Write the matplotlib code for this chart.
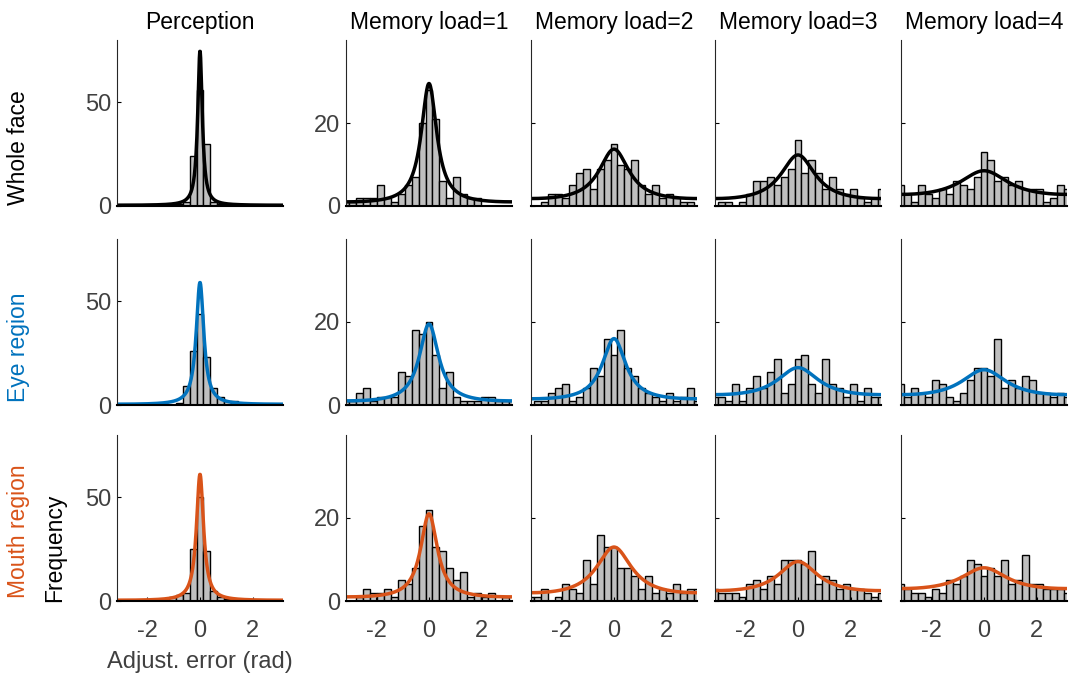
import matplotlib.pyplot as plt
import numpy as np

plt.rcParams['font.family'] = ['Liberation Sans', 'DejaVu Sans']
plt.rcParams['axes.unicode_minus'] = False

# 막대 중심: k * (2pi/24), k = -12..12
bin_w = 2 * np.pi / 24
centers = np.arange(-12, 13) * bin_w

col_titles = ['Perception', 'Memory load=1', 'Memory load=2', 'Memory load=3', 'Memory load=4']
row_labels = ['Whole face', 'Eye region', 'Mouth region']
row_colors = ['black', '#0072BD', '#D95319']

# 히스토그램 카운트 (행: 조건, 열: 과제)
whole_face = [
    [0, 0, 0, 0, 0, 0, 0, 0, 0, 1, 2, 24, 56, 30, 2, 1, 1, 0, 0, 0, 0, 0, 0, 0, 0],
    [1, 1, 2, 2, 2, 5, 2, 1, 3, 5, 7, 20, 28, 21, 6, 2, 7, 3, 2, 2, 0, 0, 0, 0, 0],
    [0, 0, 1, 3, 3, 2, 5, 8, 9, 4, 9, 11, 15, 10, 9, 11, 5, 3, 5, 2, 3, 2, 1, 1, 0],
    [0, 1, 1, 0, 1, 3, 6, 6, 7, 5, 7, 9, 16, 8, 11, 8, 4, 7, 4, 3, 4, 2, 1, 2, 4],
    [5, 3, 1, 5, 3, 2, 4, 3, 6, 5, 4, 7, 13, 11, 6, 7, 5, 6, 4, 4, 4, 1, 2, 5, 4],
]
eye_region = [
    [0, 0, 0, 0, 0, 0, 0, 0, 0, 1, 9, 26, 44, 23, 8, 4, 2, 2, 0, 0, 0, 0, 0, 0, 0],
    [1, 1, 3, 4, 1, 2, 2, 2, 8, 7, 18, 17, 20, 12, 4, 8, 2, 1, 1, 1, 2, 2, 1, 1, 1],
    [0, 1, 1, 3, 4, 5, 1, 2, 4, 9, 7, 16, 12, 18, 9, 7, 4, 3, 2, 1, 3, 1, 2, 4, 1],
    [2, 2, 1, 5, 1, 4, 7, 4, 8, 11, 3, 5, 11, 12, 5, 3, 11, 5, 4, 2, 5, 1, 4, 2, 2],
    [5, 2, 4, 3, 2, 6, 5, 2, 1, 3, 6, 9, 9, 7, 16, 4, 6, 4, 7, 6, 3, 3, 2, 3, 2],
]
mouth_region = [
    [0, 0, 0, 0, 0, 0, 0, 0, 2, 3, 4, 25, 50, 24, 5, 2, 1, 0, 0, 0, 0, 0, 0, 0, 0],
    [0, 0, 1, 3, 2, 2, 3, 1, 5, 4, 8, 18, 22, 13, 12, 8, 5, 7, 1, 2, 1, 2, 0, 1, 0],
    [1, 1, 3, 0, 1, 4, 3, 2, 10, 4, 16, 13, 13, 8, 8, 6, 3, 6, 2, 3, 2, 4, 2, 3, 3],
    [3, 2, 2, 2, 1, 4, 5, 3, 6, 4, 10, 10, 10, 9, 12, 4, 6, 5, 3, 4, 3, 3, 2, 1, 2],
    [4, 3, 2, 2, 1, 3, 2, 5, 4, 6, 10, 9, 6, 8, 6, 10, 4, 5, 11, 4, 4, 3, 3, 3, 2],
]
counts = [whole_face, eye_region, mouth_region]

# 적합 곡선 파라미터: 최고점, 기저값, wrapped Cauchy rho
fit_peak = [[74.5, 29.5, 13.7, 12.3, 8.5],
            [59.0, 19.5, 16.0, 9.0, 8.5],
            [61.0, 21.0, 13.0, 9.5, 8.0]]
fit_base = [[0.4, 1.0, 1.8, 1.8, 2.8],
            [0.4, 1.0, 1.5, 2.5, 2.5],
            [0.4, 1.0, 2.0, 2.5, 3.0]]
fit_rho = [[0.90, 0.70, 0.50, 0.45, 0.32],
           [0.84, 0.64, 0.58, 0.38, 0.35],
           [0.85, 0.68, 0.44, 0.40, 0.34]]


def wcauchy(x, rho):
    return (1 - rho**2) / (1 + rho**2 - 2 * rho * np.cos(x))


fig = plt.figure(figsize=(10.69, 6.75), dpi=100)
W, H = 1069, 675
col_left = [117, 346, 531, 715, 901]
row_bottom = [206, 405, 601]
ax_w, ax_h = 166, 166
tick_color = '#404040'
xx = np.linspace(-np.pi, np.pi, 400)
label_y = [0.35, 0.345, 0.42]

for r in range(3):
    for c in range(5):
        ax = fig.add_axes([col_left[c] / W, 1 - row_bottom[r] / H, ax_w / W, ax_h / H])
        ax.bar(centers, counts[r][c], width=bin_w, color='#BFBFBF',
               edgecolor='black', linewidth=1.0)
        g = wcauchy(xx, fit_rho[r][c])
        h = (g - g.min()) / (g.max() - g.min())
        ax.plot(xx, fit_base[r][c] + (fit_peak[r][c] - fit_base[r][c]) * h,
                color=row_colors[r], lw=2.5)
        ax.set_xlim(-np.pi, np.pi)
        if c == 0:
            ax.set_ylim(0, 80)
            ax.set_yticks([0, 50])
        else:
            ax.set_ylim(0, 40)
            ax.set_yticks([0, 20])
        ax.set_xticks([-2, 0, 2])
        for s in ['top', 'right']:
            ax.spines[s].set_visible(False)
        ax.spines['left'].set_color('#262626')
        ax.spines['left'].set_linewidth(0.8)
        ax.spines['bottom'].set_color('black')
        ax.spines['bottom'].set_linewidth(1.5)
        ax.tick_params(direction='in', length=3, width=0.8, labelsize=17,
                       labelcolor=tick_color)
        ax.tick_params(axis='y', pad=4)
        ax.tick_params(axis='x', pad=14)
        if r < 2:
            ax.set_xticklabels([])
            ax.tick_params(axis='x', length=0)
        if c not in (0, 1):
            ax.set_yticklabels([])
        if r == 0:
            ax.set_title(col_titles[c], fontsize=16.5, pad=8)
        if c == 0:
            ax.text(-0.596, label_y[r], row_labels[r], transform=ax.transAxes,
                    rotation=90, fontsize=16.5, color=row_colors[r],
                    ha='center', va='center')
        if r == 2 and c == 0:
            ax.set_xlabel('Adjust. error (rad)', fontsize=17, color=tick_color, labelpad=6)
            ax.text(-0.373, 0.32, 'Frequency', transform=ax.transAxes, rotation=90,
                    fontsize=16.5, ha='center', va='center')

fig.savefig('out.png', dpi=100)
